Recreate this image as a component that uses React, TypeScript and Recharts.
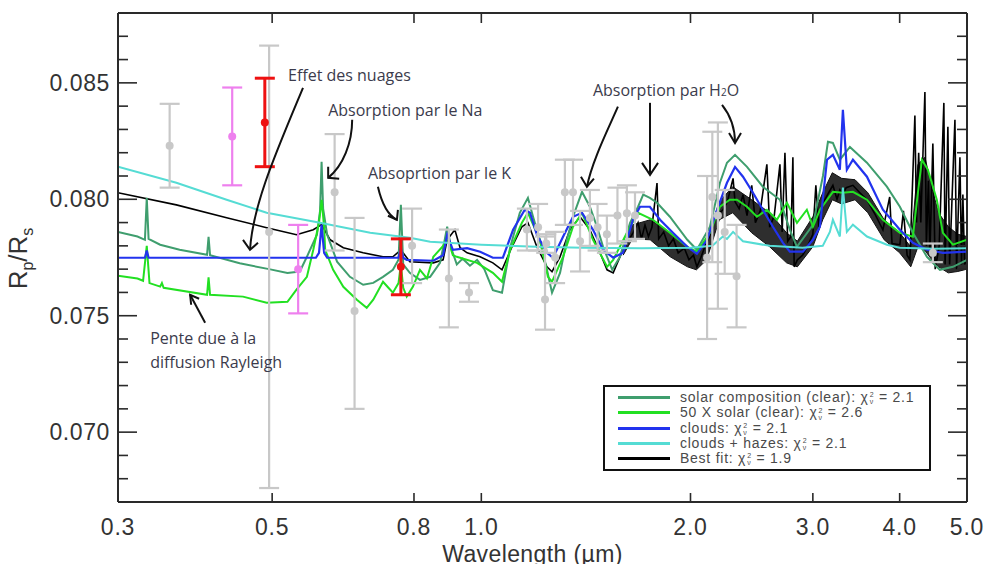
import React from "react";
import {
  ComposedChart,
  Line,
  Area,
  Scatter,
  ErrorBar,
  XAxis,
  YAxis,
  ReferenceDot,
} from "recharts";

// ---- model spectra (wavelength in µm, Rp/Rs) ----
const solarW = [0.3, 0.32, 0.328, 0.33, 0.332, 0.345, 0.368, 0.403, 0.405, 0.407, 0.449, 0.495, 0.526, 0.548, 0.561, 0.58, 0.586, 0.589, 0.592, 0.6, 0.62, 0.647, 0.676, 0.699, 0.722, 0.746, 0.76, 0.766, 0.772, 0.789, 0.816, 0.844, 0.872, 0.885, 0.893, 0.905, 0.922, 0.94, 0.963, 0.986, 1.01, 1.039, 1.071, 1.1, 1.136, 1.167, 1.187, 1.214, 1.243, 1.264, 1.298, 1.328, 1.355, 1.396, 1.433, 1.467, 1.497, 1.543, 1.583, 1.637, 1.681, 1.71, 1.748, 1.79, 1.868, 1.979, 2.043, 2.133, 2.205, 2.257, 2.318, 2.412, 2.542, 2.69, 2.78, 2.846, 3.001, 3.102, 3.154, 3.206, 3.281, 3.392, 3.589, 3.834, 4.003, 4.179, 4.378, 4.571, 4.772, 5.0];
const solarV = [0.0786, 0.0784, 0.07826, 0.08006, 0.0783, 0.07805, 0.07783, 0.07762, 0.07839, 0.0776, 0.07725, 0.077, 0.07684, 0.0769, 0.07753, 0.07848, 0.0795, 0.08161, 0.0796, 0.07848, 0.07732, 0.07667, 0.07633, 0.07641, 0.07667, 0.07697, 0.0774, 0.07976, 0.0772, 0.07684, 0.07654, 0.07667, 0.07727, 0.0782, 0.07882, 0.0779, 0.0772, 0.07745, 0.07715, 0.0774, 0.077, 0.0761, 0.07599, 0.07792, 0.07942, 0.08006, 0.07925, 0.07826, 0.07697, 0.07599, 0.07684, 0.07826, 0.07925, 0.08032, 0.07968, 0.07882, 0.07796, 0.07697, 0.07753, 0.07899, 0.07968, 0.0802, 0.08006, 0.07985, 0.07925, 0.07826, 0.07783, 0.07882, 0.08071, 0.08157, 0.08191, 0.08139, 0.08054, 0.07998, 0.07869, 0.07796, 0.0789, 0.081, 0.08247, 0.08242, 0.0817, 0.08225, 0.08157, 0.08054, 0.07968, 0.07856, 0.07753, 0.07697, 0.0771, 0.0774];

const richW = [0.3, 0.32, 0.326, 0.33, 0.333, 0.345, 0.347, 0.349, 0.403, 0.405, 0.407, 0.454, 0.491, 0.526, 0.542, 0.561, 0.573, 0.584, 0.589, 0.594, 0.596, 0.612, 0.633, 0.662, 0.684, 0.699, 0.722, 0.735, 0.746, 0.76, 0.766, 0.772, 0.781, 0.797, 0.816, 0.835, 0.853, 0.881, 0.893, 0.91, 0.922, 0.986, 1.039, 1.071, 1.1, 1.144, 1.167, 1.214, 1.247, 1.264, 1.311, 1.355, 1.396, 1.448, 1.517, 1.548, 1.62, 1.681, 1.766, 1.868, 1.979, 2.043, 2.133, 2.205, 2.279, 2.333, 2.412, 2.493, 2.576, 2.663, 2.753, 2.846, 2.941, 3.001, 3.071, 3.206, 3.314, 3.426, 3.589, 3.784, 4.003, 4.179, 4.249, 4.306, 4.392, 4.524, 4.616, 4.772, 5.0];
const richV = [0.07672, 0.0766, 0.0765, 0.078, 0.0764, 0.07625, 0.0764, 0.0762, 0.0759, 0.07665, 0.0759, 0.07582, 0.07556, 0.0756, 0.07612, 0.07667, 0.07783, 0.079, 0.07998, 0.0788, 0.07783, 0.07697, 0.07624, 0.07569, 0.07534, 0.07569, 0.07646, 0.0762, 0.07599, 0.0764, 0.0772, 0.0762, 0.07582, 0.07624, 0.07697, 0.0766, 0.07753, 0.078, 0.07839, 0.0776, 0.07753, 0.07727, 0.07684, 0.07646, 0.07783, 0.07899, 0.07942, 0.07826, 0.07667, 0.07646, 0.07753, 0.07882, 0.07942, 0.07826, 0.0771, 0.0774, 0.07856, 0.07942, 0.07912, 0.07856, 0.07796, 0.07775, 0.07856, 0.07968, 0.07998, 0.07998, 0.07968, 0.07925, 0.07955, 0.07912, 0.07985, 0.07899, 0.07955, 0.07882, 0.07955, 0.08032, 0.08028, 0.08032, 0.07998, 0.07912, 0.07856, 0.07839, 0.08028, 0.0817, 0.08127, 0.07998, 0.07856, 0.07805, 0.07826];

const cloudW = [0.3, 0.328, 0.33, 0.332, 0.578, 0.584, 0.589, 0.594, 0.6, 0.76, 0.766, 0.772, 0.781, 0.853, 0.881, 0.893, 0.91, 0.954, 0.996, 1.039, 1.074, 1.111, 1.155, 1.175, 1.202, 1.243, 1.268, 1.311, 1.355, 1.396, 1.448, 1.497, 1.548, 1.599, 1.653, 1.692, 1.748, 1.808, 1.887, 1.979, 2.043, 2.113, 2.184, 2.257, 2.318, 2.38, 2.46, 2.542, 2.628, 2.717, 2.78, 2.903, 3.001, 3.071, 3.144, 3.206, 3.281, 3.314, 3.358, 3.426, 3.589, 3.784, 4.003, 4.179, 4.378, 4.616, 5.0];
const cloudV = [0.07749, 0.07749, 0.0778, 0.07749, 0.07749, 0.0777, 0.07891, 0.0777, 0.07749, 0.07749, 0.0779, 0.07749, 0.0774, 0.07736, 0.0776, 0.07848, 0.07783, 0.0779, 0.07775, 0.07749, 0.07749, 0.07869, 0.07955, 0.07942, 0.07848, 0.0777, 0.07749, 0.07839, 0.07925, 0.07942, 0.07869, 0.07783, 0.07749, 0.0777, 0.07912, 0.07968, 0.07968, 0.07912, 0.07856, 0.07796, 0.07766, 0.07826, 0.07955, 0.08071, 0.08139, 0.08097, 0.08028, 0.07955, 0.07882, 0.07813, 0.07775, 0.07775, 0.07826, 0.07882, 0.0817, 0.08191, 0.08127, 0.08384, 0.08127, 0.0817, 0.08097, 0.07955, 0.07869, 0.07813, 0.07783, 0.0777, 0.07775];

const hazeW = [0.3, 0.364, 0.43, 0.491, 0.586, 0.692, 0.789, 0.844, 1.0, 1.2, 1.4, 1.7, 2.0, 2.15, 2.227, 2.257, 2.303, 2.38, 2.6, 2.9, 3.1, 3.174, 3.206, 3.281, 3.314, 3.358, 3.426, 3.589, 3.834, 4.0, 4.5, 5.0];
const hazeV = [0.0814, 0.08071, 0.07998, 0.07942, 0.07899, 0.07856, 0.07835, 0.07818, 0.07805, 0.07796, 0.07792, 0.0779, 0.07792, 0.078, 0.0784, 0.0783, 0.0786, 0.0782, 0.078, 0.07792, 0.078, 0.0786, 0.07912, 0.0784, 0.0805, 0.0786, 0.07891, 0.0784, 0.07805, 0.07792, 0.07788, 0.0779];

const bestW = [0.3, 0.364, 0.43, 0.491, 0.542, 0.573, 0.589, 0.606, 0.633, 0.676, 0.722, 0.746, 0.766, 0.789, 0.853, 0.881, 0.893, 0.916, 0.932, 0.954, 0.996, 1.039, 1.071, 1.107, 1.144, 1.167, 1.202, 1.243, 1.264, 1.298, 1.341, 1.387, 1.433, 1.482, 1.517, 1.548, 1.599, 1.653, 1.681, 1.7, 1.72, 1.74, 1.76, 1.79, 1.8, 1.83, 1.86, 1.89, 1.92, 1.96, 1.99, 2.02, 2.043, 2.07, 2.1, 2.13, 2.16, 2.2, 2.227, 2.26, 2.303, 2.318, 2.35, 2.38, 2.412, 2.45, 2.48, 2.52, 2.576, 2.6, 2.64, 2.69, 2.71, 2.735, 2.76, 2.79, 2.808, 2.82, 2.85, 2.9, 2.95, 3.0, 3.03, 3.06, 3.1, 3.15, 3.206, 3.25, 3.281, 3.314, 3.35, 3.426, 3.5, 3.589, 3.68, 3.784, 3.87, 3.9, 4.003, 4.05, 4.1, 4.138, 4.207, 4.23, 4.26, 4.29, 4.349, 4.37, 4.4, 4.421, 4.465, 4.5, 4.56, 4.631, 4.65, 4.693, 4.72, 4.804, 4.83, 4.884, 4.91, 4.932, 4.96, 5.0];
const bestV = [0.08028, 0.07976, 0.07921, 0.07878, 0.07848, 0.07869, 0.07891, 0.07826, 0.07792, 0.0777, 0.07753, 0.07753, 0.07783, 0.07732, 0.07727, 0.0774, 0.07826, 0.07869, 0.07792, 0.0777, 0.07753, 0.07727, 0.07697, 0.07796, 0.07882, 0.07899, 0.07796, 0.0771, 0.07689, 0.07753, 0.07869, 0.07925, 0.07869, 0.0777, 0.07697, 0.07684, 0.07783, 0.07856, 0.079, 0.0783, 0.0789, 0.0784, 0.0788, 0.0807, 0.0783, 0.0786, 0.078, 0.0783, 0.0777, 0.0779, 0.0774, 0.0776, 0.0771, 0.0775, 0.078, 0.0784, 0.079, 0.0794, 0.07955, 0.0799, 0.0809, 0.0799, 0.0796, 0.0802, 0.0793, 0.0806, 0.079, 0.0795, 0.0815, 0.0788, 0.0793, 0.0815, 0.0786, 0.082, 0.0782, 0.0784, 0.0818, 0.0771, 0.0774, 0.0776, 0.078, 0.0785, 0.0806, 0.0788, 0.0798, 0.0802, 0.0806, 0.08, 0.0804, 0.0802, 0.0805, 0.0806, 0.0803, 0.07998, 0.0794, 0.07869, 0.0801, 0.0781, 0.07805, 0.0795, 0.0776, 0.0774, 0.0836, 0.079, 0.082, 0.079, 0.08461, 0.078, 0.0808, 0.0776, 0.0824, 0.077, 0.078, 0.08414, 0.0772, 0.08311, 0.0772, 0.08341, 0.077, 0.0818, 0.0772, 0.0802, 0.0772, 0.0774];

// envelope of the dense black (best fit) noise
const bandW = [1.6, 1.65, 1.75, 1.87, 1.98, 2.04, 2.11, 2.2, 2.3, 2.45, 2.6, 2.75, 2.85, 3.0, 3.1, 3.2, 3.3, 3.45, 3.6, 3.8, 4.0, 4.15, 4.25, 4.35, 4.45, 4.55, 4.7, 4.85, 5.0];
const bandLo = [0.0776, 0.0783, 0.07826, 0.07753, 0.0771, 0.07697, 0.0774, 0.07912, 0.07942, 0.07856, 0.07796, 0.07727, 0.0771, 0.07796, 0.07912, 0.07998, 0.0798, 0.07998, 0.07942, 0.07826, 0.0777, 0.0771, 0.07796, 0.0778, 0.0774, 0.0771, 0.07684, 0.0769, 0.077];
const bandHi = [0.0779, 0.0789, 0.07912, 0.07856, 0.07796, 0.0777, 0.07826, 0.07989, 0.08054, 0.07998, 0.07942, 0.07856, 0.0782, 0.07925, 0.08028, 0.08114, 0.0809, 0.08084, 0.08028, 0.07912, 0.07856, 0.07796, 0.0815, 0.0818, 0.0805, 0.07942, 0.07882, 0.0785, 0.0784];

// ---- measurements ----
const grayW = [0.356, 0.495, 0.615, 0.657, 0.795, 0.898, 0.96, 1.163, 1.207, 1.235, 1.24, 1.277, 1.319, 1.355, 1.387, 1.433, 1.47, 1.516, 1.57, 1.62, 1.664, 2.113, 2.15, 2.19, 2.24, 2.33, 4.465];
const grayV = [0.0823, 0.0786, 0.0803, 0.0752, 0.078, 0.0766, 0.076, 0.0787, 0.0788, 0.0757, 0.0781, 0.0775, 0.0803, 0.0803, 0.0782, 0.0792, 0.0788, 0.0785, 0.0793, 0.0794, 0.0793, 0.0775, 0.0801, 0.0793, 0.0786, 0.0767, 0.0777];
const grayLo = [0.0018, 0.011, 0.0025, 0.0042, 0.0016, 0.0021, 0.0004, 0.0009, 0.001, 0.0013, 0.0004, 0.0011, 0.0014, 0.0014, 0.0013, 0.0012, 0.001, 0.0008, 0.0012, 0.0012, 0.001, 0.0035, 0.0028, 0.004, 0.0018, 0.0022, 0.0004];
const grayHi = [0.0018, 0.008, 0.0025, 0.0040, 0.0016, 0.0021, 0.0004, 0.0009, 0.001, 0.0027, 0.0004, 0.0011, 0.0014, 0.0014, 0.0013, 0.0012, 0.001, 0.0008, 0.0012, 0.0012, 0.001, 0.0035, 0.0028, 0.004, 0.0018, 0.0022, 0.0004];
const violetW = [0.438, 0.545];
const violetV = [0.0827, 0.077];
const violetE = [0.0021, 0.0019];
const redW = [0.488, 0.766];
const redV = [0.0833, 0.0771];
const redE = [0.0019, 0.0012];

// ---- axes ----
const xTicks = [0.3, 0.5, 0.8, 1.0, 2.0, 3.0, 4.0, 5.0];
const xLabels = ["0.3", "0.5", "0.8", "1.0", "2.0", "3.0", "4.0", "5.0"];
const yTicks = [0.067, 0.068, 0.069, 0.07, 0.071, 0.072, 0.073, 0.074, 0.075, 0.076, 0.077, 0.078, 0.079, 0.08, 0.081, 0.082, 0.083, 0.084, 0.085, 0.086, 0.087, 0.088];

const C_SOLAR = "#3f9e6e";
const C_RICH = "#22e022";
const C_CLOUD = "#2233ee";
const C_HAZE = "#55dcd4";
const C_BEST = "#000000";
const C_GRAY = "#c8c8c8";
const C_VIOLET = "#ee80ee";
const C_RED = "#ee1111";
const AX = "#2a2a2a";
const AXFONT = "'Liberation Sans', Arial, sans-serif";
const NOTEFONT = "'Open Sans', sans-serif";
const NOTECOL = "#3b3b4c";

const zip = (w: number[], v: number[]) => w.map((x, i) => ({ w: x, v: v[i] }));
const zipErr = (w: number[], v: number[], lo: number[], hi: number[]) =>
  w.map((x, i) => ({ w: x, v: v[i], e: [lo[i], hi[i]] }));

const solarData = zip(solarW, solarV);
const richData = zip(richW, richV);
const cloudData = zip(cloudW, cloudV);
const hazeData = zip(hazeW, hazeV);
const bestData = zip(bestW, bestV);
const bandData = bandW.map((x, i) => ({ w: x, band: [bandLo[i], bandHi[i]] }));
const grayData = zipErr(grayW, grayV, grayLo, grayHi);
const violetData = zipErr(violetW, violetV, violetE, violetE);
const redData = zipErr(redW, redV, redE, redE);

// annotations anchored at the spot each arrow points to
const notes = [
  { w: 0.4646, v: 0.07783, path: "M53,-162 C25,-95 3,-45 0,0", head: "M-7,-10 L0,0 L8,-7", text: ["Effet des nuages"], dx: 38, dy: -175 },
  { w: 0.602, v: 0.08092, path: "M24,-58 C24,-35 15,-12 0,0", head: "M0,-11 L0,0 L11,1", text: ["Absorption par le Na"], dx: 0, dy: -68 },
  { w: 0.756, v: 0.07912, path: "M-19,-33 C-16,-20 -10,-5 0,0", head: "M1,-10 L0,0 L-9,-4", text: ["Absoprtion par le K"], dx: -29, dy: -47 },
  { w: 1.419, v: 0.08054, path: "M31,-80 C20,-55 5,-25 0,0", head: "M-6,-10 L0,0 L7,-8", text: ["H2O"], dx: 6, dy: -97 },
  { w: 1.749, v: 0.08105, path: "M0,-72 L0,0", head: "M-8,-12 L0,0 L8,-12", text: [], dx: 0, dy: 0 },
  { w: 2.318, v: 0.08242, path: "M-13,-38 C-5,-28 0,-15 0,0", head: "M-6,-10 L0,0 L6,-10", text: [], dx: 0, dy: 0 },
  { w: 0.381, v: 0.0759, path: "M15,28 L0,0", head: "M1,10 L0,0 L9,4", text: ["Pente due à la", "diffusion Rayleigh"], dx: -40, dy: 43 },
];

const isMajor = (v: number) => Math.round(v * 1000) % 5 === 0;

const LeftTick = ({ x, y, payload }: any) => {
  const major = isMajor(payload.value);
  return (
    <g>
      <line x1={x} x2={x + (major ? 19 : 10)} y1={y} y2={y} stroke={AX} strokeWidth={1.6} />
      {major && (
        <text x={x - 8} y={y} textAnchor="end" dominantBaseline="central" fontFamily={AXFONT} fontSize={23} letterSpacing={0.6} fill="#333">
          {payload.value.toFixed(3)}
        </text>
      )}
    </g>
  );
};

const RightTick = ({ x, y, payload }: any) => {
  const major = isMajor(payload.value);
  return <line x1={x} x2={x - (major ? 19 : 10)} y1={y} y2={y} stroke={AX} strokeWidth={1.6} />;
};

const BottomTick = ({ x, y, payload, index }: any) => (
  <g>
    <line x1={x} x2={x} y1={y} y2={y - 9} stroke={AX} strokeWidth={1.6} />
    <text x={x} y={y + 25} textAnchor="middle" dominantBaseline="central" fontFamily={AXFONT} fontSize={23} letterSpacing={0.8} fill="#333">
      {xLabels[index] ?? payload.value.toFixed(1)}
    </text>
  </g>
);

const TopTick = ({ x, y }: any) => <line x1={x} x2={x} y1={y} y2={y + 10} stroke={AX} strokeWidth={1.6} />;

const XTitle = ({ viewBox }: any) => {
  const { x, y, width } = viewBox;
  return (
    <text x={x + width / 2 - 10} y={y + 52} textAnchor="middle" dominantBaseline="central" fontFamily={AXFONT} fontSize={23} letterSpacing={0.4} fill="#333">
      Wavelength (µm)
    </text>
  );
};

const YTitle = ({ viewBox }: any) => {
  const { x, y, height } = viewBox;
  const cx = x - 21;
  const cy = y + height / 2 + 1;
  return (
    <text x={cx} y={cy} transform={`rotate(-90, ${cx}, ${cy})`} textAnchor="middle" fontFamily={AXFONT} fontSize={26} fill="#333">
      R<tspan fontSize={16} dy={6}>p</tspan>
      <tspan dy={-6}>/R</tspan>
      <tspan fontSize={16} dy={6}>s</tspan>
    </text>
  );
};

const noteShape = (n: (typeof notes)[number]) => (p: any) => {
  const { cx, cy } = p;
  return (
    <g transform={`translate(${cx},${cy})`}>
      <path d={n.path} fill="none" stroke="#111" strokeWidth={2} />
      <path d={n.head} fill="none" stroke="#111" strokeWidth={2} />
      {n.text.map((t, i) =>
        t === "H2O" ? (
          <text key={i} x={n.dx} y={n.dy} dominantBaseline="central" fontFamily={NOTEFONT} fontSize={16} fill={NOTECOL}>
            Absorption par H<tspan fontSize={10} dy={2}>2</tspan>
            <tspan dy={-2}>O</tspan>
          </text>
        ) : (
          <text key={i} x={n.dx} y={n.dy + i * 24} dominantBaseline="central" fontFamily={NOTEFONT} fontSize={16} fill={NOTECOL}>
            {t}
          </text>
        )
      )}
    </g>
  );
};

const dot = (color: string) => (p: any) => <circle cx={p.cx} cy={p.cy} r={4} fill={color} />;

const Chi = () => (
  <span style={{ whiteSpace: "nowrap" }}>
    χ
    <span style={{ display: "inline-flex", flexDirection: "column", fontSize: 7, lineHeight: "7px", verticalAlign: "middle", marginLeft: 1 }}>
      <span>2</span>
      <span>ν</span>
    </span>
  </span>
);

const legendRows = [
  { color: C_SOLAR, label: "solar composition (clear): ", val: "2.1" },
  { color: C_RICH, label: "50 X solar (clear): ", val: "2.6" },
  { color: C_CLOUD, label: "clouds: ", val: "2.1" },
  { color: C_HAZE, label: "clouds + hazes: ", val: "2.1" },
  { color: C_BEST, label: "Best fit: ", val: "1.9" },
];

export default function App() {
  return (
    <div style={{ position: "absolute", left: 0, top: 0, width: 984, height: 564, background: "#fff" }}>
      <ComposedChart width={984} height={564} margin={{ top: 8, right: 12, bottom: 22, left: 48 }}>
        <XAxis
          dataKey="w"
          type="number"
          scale="log"
          domain={[0.3, 5]}
          allowDataOverflow
          ticks={xTicks}
          interval={0}
          tickSize={0}
          tickMargin={0}
          tickLine={false}
          height={40}
          axisLine={{ stroke: AX, strokeWidth: 2 }}
          tick={<BottomTick />}
          label={<XTitle />}
        />
        <XAxis
          xAxisId="top"
          orientation="top"
          dataKey="w"
          type="number"
          scale="log"
          domain={[0.3, 5]}
          allowDataOverflow
          ticks={xTicks}
          interval={0}
          tickSize={0}
          tickMargin={0}
          tickLine={false}
          height={5}
          axisLine={{ stroke: AX, strokeWidth: 2 }}
          tick={<TopTick />}
        />
        <YAxis
          type="number"
          domain={[0.067, 0.088]}
          allowDataOverflow
          ticks={yTicks}
          interval={0}
          tickSize={0}
          tickMargin={0}
          tickLine={false}
          width={70}
          axisLine={{ stroke: AX, strokeWidth: 2 }}
          tick={<LeftTick />}
          label={<YTitle />}
        />
        <YAxis
          yAxisId="right"
          orientation="right"
          type="number"
          domain={[0.067, 0.088]}
          allowDataOverflow
          ticks={yTicks}
          interval={0}
          tickSize={0}
          tickMargin={0}
          tickLine={false}
          width={5}
          axisLine={{ stroke: AX, strokeWidth: 2 }}
          tick={<RightTick />}
        />

        <Area data={bandData} dataKey="band" type="linear" stroke="#111" strokeWidth={1} fill={C_BEST} fillOpacity={0.82} isAnimationActive={false} />
        <Line data={bestData} dataKey="v" type="linear" stroke={C_BEST} strokeWidth={1.6} dot={false} isAnimationActive={false} />
        <Line data={solarData} dataKey="v" type="linear" stroke={C_SOLAR} strokeWidth={2} dot={false} isAnimationActive={false} />
        <Line data={richData} dataKey="v" type="linear" stroke={C_RICH} strokeWidth={2} dot={false} isAnimationActive={false} />
        <Line data={cloudData} dataKey="v" type="linear" stroke={C_CLOUD} strokeWidth={2.2} dot={false} isAnimationActive={false} />
        <Line data={hazeData} dataKey="v" type="linear" stroke={C_HAZE} strokeWidth={2} dot={false} isAnimationActive={false} />

        <Scatter data={grayData} dataKey="v" fill={C_GRAY} shape={dot(C_GRAY)} isAnimationActive={false}>
          <ErrorBar dataKey="e" direction="y" width={10} stroke={C_GRAY} strokeWidth={2.2} />
        </Scatter>
        <Scatter data={violetData} dataKey="v" fill={C_VIOLET} shape={dot(C_VIOLET)} isAnimationActive={false}>
          <ErrorBar dataKey="e" direction="y" width={10} stroke={C_VIOLET} strokeWidth={2.2} />
        </Scatter>
        <Scatter data={redData} dataKey="v" fill={C_RED} shape={dot(C_RED)} isAnimationActive={false}>
          <ErrorBar dataKey="e" direction="y" width={10} stroke={C_RED} strokeWidth={3} />
        </Scatter>

        {notes.map((n, i) => (
          <ReferenceDot key={i} x={n.w} y={n.v} r={0} ifOverflow="visible" shape={noteShape(n)} />
        ))}
      </ComposedChart>

      <div
        style={{
          position: "absolute",
          left: 603,
          top: 385,
          width: 328,
          height: 86,
          boxSizing: "border-box",
          border: "2px solid #111",
          background: "#fff",
          paddingTop: 3,
          fontFamily: AXFONT,
          fontSize: 14,
          letterSpacing: 0.75,
          color: "#4a4a4a",
        }}
      >
        {legendRows.map((r) => (
          <div key={r.label} style={{ display: "flex", alignItems: "center", height: 15.3 }}>
            <div style={{ marginLeft: 13, width: 52, height: 3, background: r.color }} />
            <div style={{ marginLeft: 10, lineHeight: "15px", whiteSpace: "nowrap" }}>
              {r.label}
              <Chi />
              {"  = " + r.val}
            </div>
          </div>
        ))}
      </div>
    </div>
  );
}
